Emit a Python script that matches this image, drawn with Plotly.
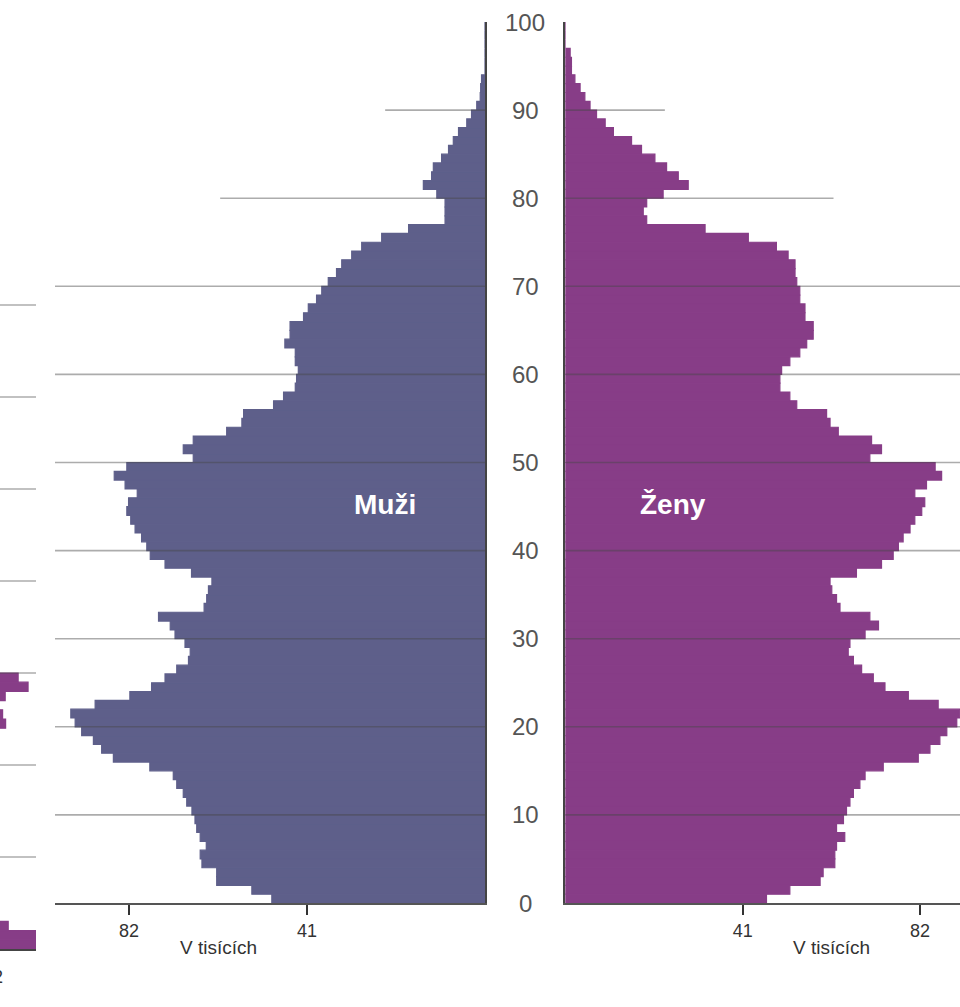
import plotly.graph_objects as go

# ---------------- data (thousands of persons by single year of age) ----------------
ages = list(range(0, 101))

men = [49.1, 53.7, 61.8, 61.8, 65.2, 65.6, 64.2, 65.6, 66.4, 66.8,
       67.5, 68.7, 69.5, 71.0, 71.8, 77.2, 85.6, 88.3, 90.2, 92.9,
       94.4, 95.4, 89.8, 81.8, 76.8, 73.7, 71.0, 68.3, 67.9, 69.1,
       71.4, 72.5, 75.2, 64.7, 64.1, 63.7, 62.9, 67.6, 73.7, 77.1,
       77.9, 79.1, 80.6, 81.6, 82.5, 82.1, 80.1, 82.9, 85.4, 82.5,
       67.2, 69.5, 67.2, 59.5, 56.0, 55.6, 48.7, 46.4, 43.7, 43.4,
       43.0, 43.7, 43.7, 46.1, 44.9, 44.9, 41.8, 40.7, 38.8, 37.6,
       36.1, 34.2, 33.0, 30.7, 28.4, 23.8, 17.6, 9.2, 9.2, 9.2,
       11.1, 14.2, 12.3, 11.9, 10.0, 8.4, 7.3, 6.1, 4.2, 3.1,
       1.9, 1.1, 1.0, 0.8, 0, 0, 0, 0, 0, 0, 0]

women = [46.5, 51.9, 58.9, 59.6, 62.3, 62.3, 62.7, 64.6, 62.7, 64.3,
         65.0, 65.8, 66.6, 68.1, 69.3, 73.5, 81.6, 84.3, 86.6, 88.2,
         90.5, 91.2, 86.2, 79.3, 73.9, 71.2, 68.5, 66.6, 65.4, 65.8,
         69.3, 72.4, 70.4, 63.5, 62.7, 61.6, 61.2, 67.3, 73.1, 75.8,
         77.0, 78.1, 79.7, 80.8, 82.4, 83.1, 80.8, 83.5, 87.0, 85.5,
         70.4, 73.1, 70.8, 63.1, 61.2, 60.4, 53.5, 51.9, 49.6, 49.6,
         50.0, 51.9, 54.2, 55.8, 57.3, 57.3, 55.4, 55.4, 54.2, 54.2,
         53.5, 53.1, 53.1, 51.5, 48.8, 42.3, 32.3, 18.8, 18.0, 18.8,
         22.6, 28.4, 26.1, 23.4, 20.7, 17.6, 15.3, 11.1, 9.2, 7.2,
         5.7, 4.5, 3.4, 2.2, 1.4, 1.4, 1.1, 0, 0, 0, 0]

age_ticks = [0, 10, 20, 30, 40, 50, 60, 70, 80, 90, 100]
value_ticks = [82, 41]
value_ticktext = ["82", "41"]
unit_label = "V tisících"
men_label = "Muži"
women_label = "Ženy"

grid_ages = [10, 20, 30, 40, 50, 60, 70, 80, 90]
grid_men_extent = [None, None, None, None, None, None, None, 61, 23]     # None = full width
grid_women_extent = [None, None, None, None, None, None, None, 62, 23]

# fragment of the neighbouring chart (cut at the left edge of the picture)
frag_ages = [0, 1, 2, 24, 25, 27, 28, 29]
frag_women = [93.0, 93.0, 85.9, 85.3, 84.6, 85.2, 90.5, 88.2]
frag_grid_ages = [10, 20, 30, 40, 50, 60, 70]

# ---------------- styling / geometry ----------------
W, H = 960, 1007
MEN_COLOR = "#5e5f8a"
WOMEN_COLOR = "#873d87"
GRID_COLOR = "rgba(70,70,70,0.45)"
AXIS_COLOR = "#555555"
FONT = "Liberation Sans, Arial, sans-serif"

def px_x(p):
    return p / W

def px_y(p):
    return (H - p) / H

y_bottom_px, y_top_px = 903, 22
men_zero_px, men_left_px = 485, 55
men_px_per_unit = 178 / 41
women_zero_px = 565.4
women_px_per_unit = 177.3 / 41
men_max = (men_zero_px - men_left_px) / men_px_per_unit
women_max = (W - women_zero_px) / women_px_per_unit

fig = go.Figure()

fig.add_trace(go.Bar(
    y=ages, x=men, orientation="h", width=1, offset=0,
    marker=dict(color=MEN_COLOR, line=dict(width=1.2, color=MEN_COLOR)),
    xaxis="x", yaxis="y", showlegend=False, hoverinfo="skip"))

fig.add_trace(go.Bar(
    y=ages, x=women, orientation="h", width=1, offset=0,
    marker=dict(color=WOMEN_COLOR, line=dict(width=1.2, color=WOMEN_COLOR)),
    xaxis="x2", yaxis="y2", showlegend=False, hoverinfo="skip"))

fig.add_trace(go.Bar(
    y=frag_ages, x=frag_women, orientation="h", width=1, offset=0,
    marker=dict(color=WOMEN_COLOR, line=dict(width=1.2, color=WOMEN_COLOR)),
    xaxis="x3", yaxis="y3", showlegend=False, hoverinfo="skip"))

shapes = []
for a, ext in zip(grid_ages, grid_men_extent):
    shapes.append(dict(type="line", xref="x", yref="y",
                       x0=men_max if ext is None else ext, x1=0, y0=a, y1=a,
                       line=dict(color=GRID_COLOR, width=1.6), layer="above"))
for a, ext in zip(grid_ages, grid_women_extent):
    shapes.append(dict(type="line", xref="x2", yref="y2",
                       x0=0, x1=women_max if ext is None else ext, y0=a, y1=a,
                       line=dict(color=GRID_COLOR, width=1.6), layer="above"))
for a in frag_grid_ages:
    shapes.append(dict(type="line", xref="x3 domain", yref="y3",
                       x0=0, x1=1, y0=a, y1=a,
                       line=dict(color=GRID_COLOR, width=1.6), layer="above"))

annotations = []
for a in age_ticks:
    annotations.append(dict(xref="paper", yref="y", x=px_x(525), y=a,
                            text=str(a), showarrow=False, xanchor="center",
                            yanchor="middle",
                            font=dict(family=FONT, size=24, color="#555555")))
for xr in ["x", "x2"]:
    annotations.append(dict(xref=xr, yref="paper", x=sum(value_ticks) / 2, y=px_y(947),
                            text=unit_label, showarrow=False, xanchor="center",
                            yanchor="middle",
                            font=dict(family=FONT, size=19, color="#333333")))
annotations.append(dict(xref="x", yref="y", x=23.0, y=45.2,
                        text="<b>" + men_label + "</b>", showarrow=False,
                        xanchor="center", yanchor="middle",
                        font=dict(family=FONT, size=28, color="white")))
annotations.append(dict(xref="x2", yref="y2", x=24.9, y=45.2,
                        text="<b>" + women_label + "</b>", showarrow=False,
                        xanchor="center", yanchor="middle",
                        font=dict(family=FONT, size=28, color="white")))
annotations.append(dict(xref="paper", yref="paper", x=px_x(5), y=px_y(977),
                        text=value_ticktext[0], showarrow=False, xanchor="right",
                        yanchor="middle", font=dict(family=FONT, size=18, color="#333333")))

ydom = [px_y(y_bottom_px), px_y(y_top_px)]

common_x = dict(showgrid=False, zeroline=False, showline=True, linecolor=AXIS_COLOR,
                linewidth=2, ticks="outside", ticklen=10, tickwidth=1.5,
                tickcolor="#333333", tickvals=value_ticks, ticktext=value_ticktext,
                tickfont=dict(family=FONT, size=18, color="#333333"), fixedrange=True)

fig.update_layout(
    width=W, height=H,
    margin=dict(l=0, r=0, t=0, b=0),
    paper_bgcolor="white", plot_bgcolor="rgba(0,0,0,0)",
    barmode="overlay",
    xaxis=dict(domain=[px_x(men_left_px), px_x(men_zero_px)], range=[men_max, 0],
               anchor="y", **common_x),
    yaxis=dict(domain=ydom, range=[0, 100], side="right", showgrid=False,
               zeroline=False, showline=True, linecolor="#444444", linewidth=2,
               showticklabels=False, ticks="", anchor="x", fixedrange=True),
    xaxis2=dict(domain=[px_x(women_zero_px), 1], range=[0, women_max],
                anchor="y2", **common_x),
    yaxis2=dict(domain=ydom, range=[0, 100], side="left", showgrid=False,
                zeroline=False, showline=True, linecolor="#444444", linewidth=2,
                showticklabels=False, ticks="", anchor="x2", fixedrange=True),
    xaxis3=dict(domain=[0, px_x(36)], range=[84, 92.34], anchor="y3",
                showgrid=False, zeroline=False, showline=True, linecolor="#444444",
                linewidth=2, showticklabels=False, ticks="", fixedrange=True),
    yaxis3=dict(domain=[px_y(949), px_y(949 - 75 * 9.2)], range=[0, 75], anchor="x3",
                showgrid=False, zeroline=False, showline=False,
                showticklabels=False, ticks="", fixedrange=True),
    shapes=shapes,
    annotations=annotations,
)

fig.write_html(
    "out.html",
    config={"displayModeBar": False},
    post_script="document.body.style.margin='0';document.body.style.overflow='hidden';",
)
